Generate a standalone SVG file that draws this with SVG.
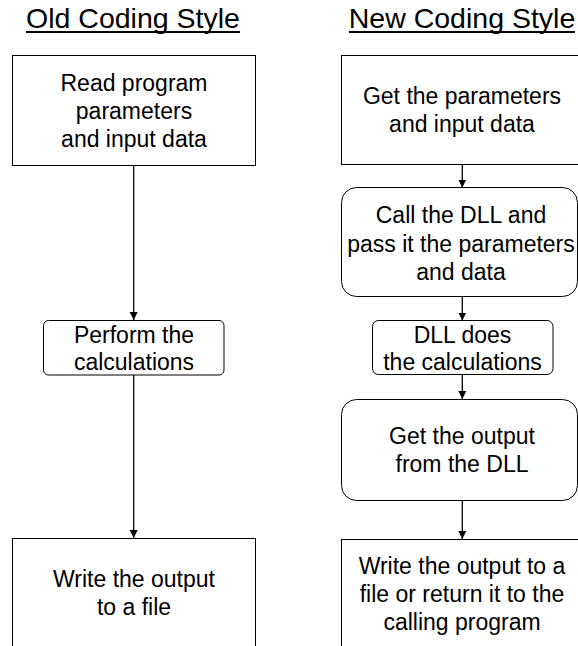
<svg xmlns="http://www.w3.org/2000/svg" width="578" height="646" viewBox="0 0 578 646">
<style>
text{font-family:"Liberation Sans",Arial,sans-serif;fill:#000;text-anchor:middle}
.t{font-size:28.5px}
.l{font-size:23px}
.box{fill:#fff;stroke:#000;stroke-width:1}
.ul{stroke:#000;stroke-width:2}
.c{stroke:#000;stroke-width:1.3;fill:none;marker-end:url(#ah)}
</style>
<defs>
<marker id="ah" markerUnits="userSpaceOnUse" markerWidth="8" markerHeight="9" viewBox="0 0 8 9" refX="8" refY="4.5" orient="auto">
<path d="M0,0.5 L8,4.5 L0,8.5 Z" fill="#000"/>
</marker>
</defs>
<rect width="578" height="646" fill="#fff"/>
<g id="title-old">
<text class="t" x="133" y="28">Old Coding Style</text>
<line class="ul" x1="26" y1="32" x2="240" y2="32"/>
</g>
<g id="title-new">
<text class="t" x="462" y="28">New Coding Style</text>
<line class="ul" x1="349" y1="32" x2="575" y2="32"/>
</g>
<g id="connectors">
<line class="c" x1="133.7" y1="165" x2="133.7" y2="320"/>
<line class="c" x1="133.7" y1="375" x2="133.7" y2="538"/>
<line class="c" x1="462.3" y1="165" x2="462.3" y2="187.5"/>
<line class="c" x1="462.3" y1="297" x2="462.3" y2="320.5"/>
<line class="c" x1="462.3" y1="374.5" x2="462.3" y2="399"/>
<line class="c" x1="462.3" y1="500" x2="462.3" y2="539"/>
</g>
<g id="old-read">
<rect class="box" x="12.5" y="55.5" width="243" height="110"/>
<text class="l" x="134" y="91">Read program</text>
<text class="l" x="134" y="119">parameters</text>
<text class="l" x="134" y="147">and input data</text>
</g>
<g id="old-perform">
<rect class="box" x="43.5" y="320.5" width="180.5" height="54.5" rx="5" ry="5"/>
<text class="l" x="134" y="343">Perform the</text>
<text class="l" x="134" y="370">calculations</text>
</g>
<g id="old-write">
<rect class="box" x="12.5" y="538.5" width="243" height="120"/>
<text class="l" x="134" y="587">Write the output</text>
<text class="l" x="134" y="615">to a file</text>
</g>
<g id="new-get">
<rect class="box" x="341.5" y="55.5" width="243" height="109"/>
<text class="l" x="462" y="104">Get the parameters</text>
<text class="l" x="462" y="132">and input data</text>
</g>
<g id="new-call">
<rect class="box" x="341.5" y="187.5" width="236" height="109" rx="15" ry="15"/>
<text class="l" x="461" y="223">Call the DLL and</text>
<text class="l" x="461" y="252">pass it the parameters</text>
<text class="l" x="461" y="280">and data</text>
</g>
<g id="new-dll">
<rect class="box" x="372.5" y="320.5" width="180.5" height="54" rx="6" ry="6"/>
<text class="l" x="462.5" y="343">DLL does</text>
<text class="l" x="462.5" y="370">the calculations</text>
</g>
<g id="new-output">
<rect class="box" x="341.5" y="399.5" width="236" height="101" rx="15" ry="15"/>
<text class="l" x="462" y="444">Get the output</text>
<text class="l" x="462" y="472">from the DLL</text>
</g>
<g id="new-write">
<rect class="box" x="341.5" y="539.5" width="243" height="120"/>
<text class="l" x="462" y="574">Write the output to a</text>
<text class="l" x="462" y="602">file or return it to the</text>
<text class="l" x="462" y="630">calling program</text>
</g>
</svg>
